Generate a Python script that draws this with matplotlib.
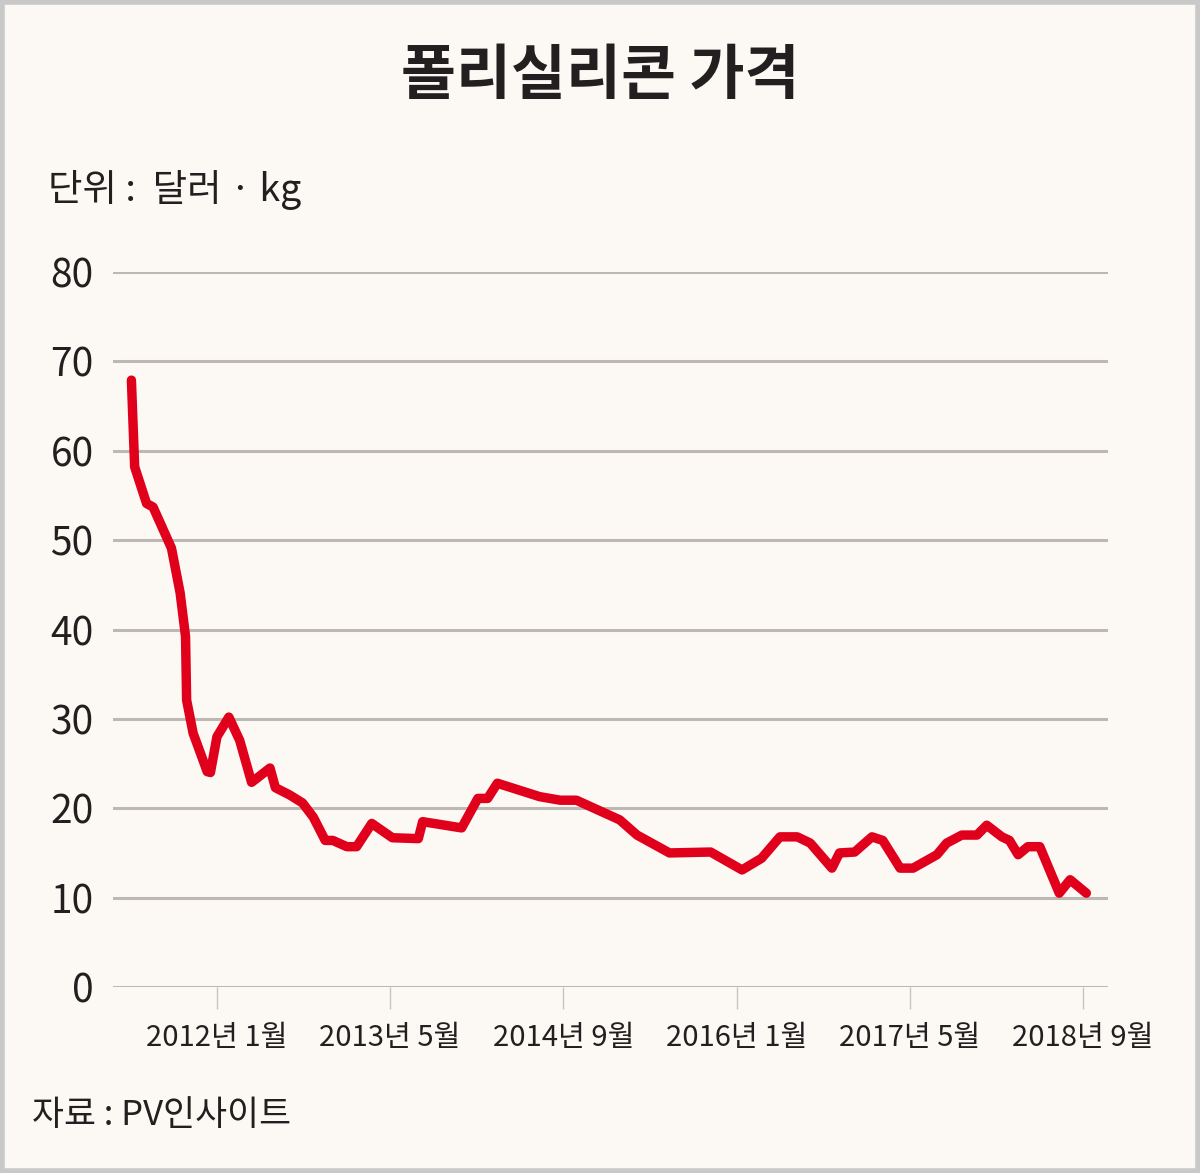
import matplotlib.pyplot as plt
from matplotlib.patches import Rectangle

plt.rcParams['font.family'] = ['Noto Sans CJK KR', 'DejaVu Sans']

# months counted from 2012-01 (0 = 2012년 1월)
months = [-7.9, -7.6, -6.5, -5.9, -4.2, -3.4, -2.9, -2.8, -2.2, -0.9, -0.6, 0.0,
          1.1, 2.1, 3.2, 4.9, 5.4, 6.7, 7.9, 8.9, 10.0, 10.7, 12.0, 12.9,
          14.3, 16.2, 18.6, 19.0, 22.6, 24.1, 25.0, 25.9, 29.8, 31.7, 33.2,
          37.2, 38.8, 41.8, 45.6, 48.5, 50.3, 52.0, 53.6, 54.8, 56.8, 57.5,
          58.9, 60.5, 61.5, 63.1, 64.3, 66.5, 67.4, 68.8, 70.2, 71.1, 72.5,
          73.2, 74.0, 74.9, 76.0, 77.8, 78.8, 80.3]
price = [67.9, 58.2, 54.1, 53.7, 49.1, 44.1, 39.2, 32.1, 28.4, 24.1, 24.0, 28.0,
         30.2, 27.6, 22.9, 24.5, 22.3, 21.5, 20.6, 19.0, 16.4, 16.4, 15.7, 15.7,
         18.3, 16.7, 16.6, 18.5, 17.8, 21.1, 21.1, 22.8, 21.3, 20.9, 20.9,
         18.7, 17.0, 15.0, 15.1, 13.1, 14.4, 16.8, 16.8, 16.1, 13.3, 15.0,
         15.1, 16.8, 16.4, 13.3, 13.3, 14.8, 16.1, 17.0, 17.0, 18.1, 16.8,
         16.4, 14.8, 15.7, 15.7, 10.5, 12.0, 10.5]

tick_pos = [0, 16, 32, 48, 64, 80]
tick_labels = ['2012년 1월', '2013년 5월', '2014년 9월', '2016년 1월', '2017년 5월', '2018년 9월']
y_ticks = [0, 10, 20, 30, 40, 50, 60, 70, 80]

bg = '#fcf9f4'
fig = plt.figure(figsize=(12, 11.73), dpi=100, facecolor=bg)
ax = fig.add_axes([113/1200, 186/1173, 995/1200, 715/1173], facecolor=bg)

ax.plot(months, price, color='#e1001b', lw=6.8, solid_joinstyle='round',
        solid_capstyle='round', zorder=3)

ax.set_xlim(-9.6, 82.3)
ax.set_ylim(0, 80)
ax.set_yticks(y_ticks)
ax.set_xticks(tick_pos)
ax.set_xticklabels(tick_labels, fontsize=21, color='#231f20')
ax.set_yticklabels([str(v) for v in y_ticks], fontsize=28, color='#231f20')
ax.yaxis.grid(True, color='#bdb8b2', lw=2.2)
ax.tick_params(axis='y', length=0, pad=14)
ax.tick_params(axis='x', length=16, width=1, color='#c8c4be', pad=10)
for s in ax.spines.values():
    s.set_visible(False)

fig.text(0.5, 1 - 77/1173, '폴리실리콘 가격', ha='center', va='center',
         fontsize=43, fontweight='bold', color='#231f20')
fig.text(48/1200, 1 - 190/1173, '단위 :  달러 · kg', ha='left', va='center',
         fontsize=27, color='#231f20')
fig.text(32/1200, 1 - 1115/1173, '자료 : PV인사이트', ha='left', va='center',
         fontsize=25, color='#231f20')

# outer frame
fig.patches.append(Rectangle((0.002, 0.002), 0.996, 0.996, transform=fig.transFigure,
                             fill=False, edgecolor='#c9c9c9', lw=4))

fig.savefig('out.png', dpi=100, facecolor=bg)
